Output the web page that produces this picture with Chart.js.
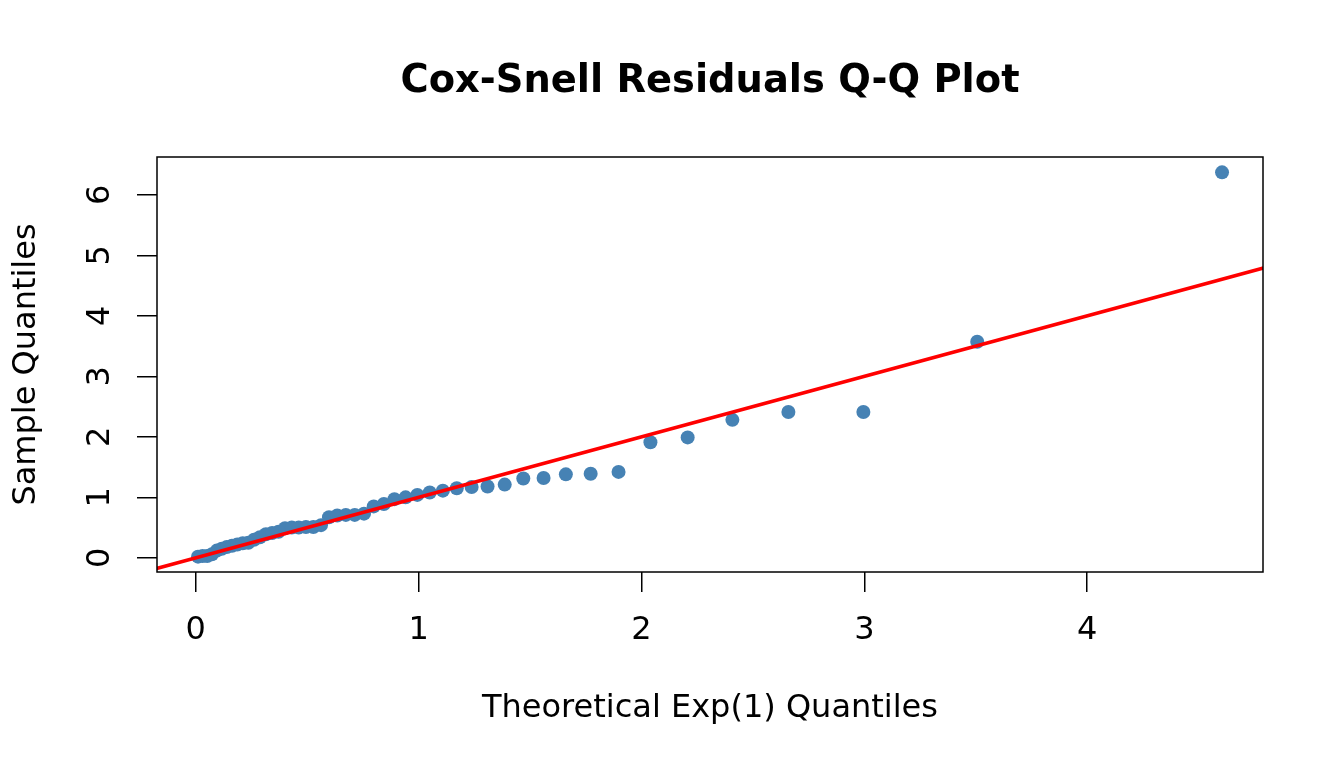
<!DOCTYPE html>
<html>
<head>
<meta charset="utf-8">
<script src="https://cdn.jsdelivr.net/npm/chart.js@4.4.0/dist/chart.umd.min.js"></script>
<style>
html, body { margin: 0; padding: 0; background: #ffffff; }
#wrap { width: 1344px; height: 768px; position: relative; }
</style>
</head>
<body>
<div id="wrap"><canvas id="c"></canvas></div>
<script>
const chartTitle = 'Cox-Snell Residuals Q-Q Plot';
const xAxisTitle = 'Theoretical Exp(1) Quantiles';
const yAxisTitle = 'Sample Quantiles';

const theoreticalQuantiles = [
  0.0101, 0.0305, 0.0513, 0.0726, 0.0943, 0.1165, 0.1393, 0.1625, 0.1863, 0.2107,
  0.2357, 0.2614, 0.2877, 0.3147, 0.3425, 0.3711, 0.4005, 0.4308, 0.4620, 0.4943,
  0.5276, 0.5621, 0.5978, 0.6349, 0.6733, 0.7133, 0.7550, 0.7985, 0.8440, 0.8916,
  0.9416, 0.9943, 1.0498, 1.1087, 1.1712, 1.2379, 1.3093, 1.3863, 1.4697, 1.5607,
  1.6607, 1.7720, 1.8971, 2.0402, 2.2073, 2.4079, 2.6593, 2.9957, 3.5066, 4.6052
];
const sampleQuantiles = [
  0.02, 0.03, 0.03, 0.06, 0.12, 0.15, 0.18, 0.20, 0.22, 0.24,
  0.25, 0.30, 0.34, 0.39, 0.41, 0.43, 0.49, 0.50, 0.50, 0.51,
  0.51, 0.54, 0.67, 0.70, 0.71, 0.71, 0.73, 0.85, 0.89, 0.97,
  1.00, 1.04, 1.08, 1.11, 1.15, 1.17, 1.18, 1.21, 1.31, 1.32,
  1.38, 1.39, 1.42, 1.91, 1.99, 2.28, 2.41, 2.41, 3.57, 6.37
];
const referenceLineX = [-1, 6];
const referenceLineY = [-1, 6];
const xTickValues = [0, 1, 2, 3, 4];
const yTickValues = [0, 1, 2, 3, 4, 5, 6];
const xLimits = [-0.174, 4.789];
const yLimits = [-0.234, 6.624];

const FONT = '"DejaVu Sans", "Liberation Sans", sans-serif';

const framePlugin = {
  id: 'framePlugin',
  afterDraw(chart) {
    const { ctx, chartArea: a } = chart;
    ctx.save();
    ctx.strokeStyle = '#000000';
    ctx.lineWidth = 1.5;
    ctx.strokeRect(a.left, a.top, a.right - a.left, a.bottom - a.top);
    ctx.fillStyle = '#000000';
    ctx.font = 'bold 38.4px ' + FONT;
    ctx.textAlign = 'center';
    ctx.textBaseline = 'alphabetic';
    ctx.fillText(chartTitle, (a.left + a.right) / 2, 91.7);
    ctx.restore();
  }
};

new Chart(document.getElementById('c'), {
  type: 'scatter',
  data: {
    datasets: [
      {
        type: 'line',
        label: 'y = x',
        data: referenceLineX.map((x, i) => ({ x: x, y: referenceLineY[i] })),
        borderColor: '#FF0000',
        backgroundColor: '#FF0000',
        borderWidth: 3.6,
        pointRadius: 0,
        fill: false,
        tension: 0,
        clip: 0
      },
      {
        type: 'scatter',
        label: 'Cox-Snell residuals',
        data: theoreticalQuantiles.map((x, i) => ({ x: x, y: sampleQuantiles[i] })),
        backgroundColor: '#4682B4',
        borderColor: '#4682B4',
        borderWidth: 0,
        pointRadius: 7,
        pointHoverRadius: 7,
        clip: false
      }
    ]
  },
  options: {
    responsive: true,
    maintainAspectRatio: false,
    animation: false,
    events: [],
    layout: { padding: { top: 157, right: 81, bottom: 0, left: 0 } },
    plugins: {
      legend: { display: false },
      tooltip: { enabled: false },
      title: { display: false }
    },
    scales: {
      x: {
        type: 'linear',
        position: 'bottom',
        min: xLimits[0],
        max: xLimits[1],
        afterBuildTicks: (s) => { s.ticks = xTickValues.map(v => ({ value: v })); },
        afterFit: (s) => { s.height = 196; },
        grid: { drawOnChartArea: false, drawTicks: true, tickLength: 20, color: '#000000', lineWidth: 1.5 },
        border: { display: false },
        ticks: {
          color: '#000000',
          font: { family: FONT, size: 32 },
          padding: 19.3,
          minRotation: 0,
          maxRotation: 0,
          autoSkip: false
        },
        title: {
          display: true,
          text: xAxisTitle,
          color: '#000000',
          font: { family: FONT, size: 32 },
          padding: { top: 0, bottom: 40.5 }
        }
      },
      y: {
        type: 'linear',
        position: 'left',
        min: yLimits[0],
        max: yLimits[1],
        afterBuildTicks: (s) => { s.ticks = yTickValues.map(v => ({ value: v })); },
        afterFit: (s) => { s.width = 157; },
        grid: { drawOnChartArea: false, drawTicks: true, tickLength: 20, color: '#000000', lineWidth: 1.5 },
        border: { display: false },
        ticks: {
          color: '#000000',
          font: { family: FONT, size: 32 },
          padding: 26,
          minRotation: 90,
          maxRotation: 90,
          crossAlign: 'center',
          autoSkip: false
        },
        title: {
          display: true,
          text: yAxisTitle,
          color: '#000000',
          font: { family: FONT, size: 32 },
          padding: { top: 7, bottom: 0 }
        }
      }
    }
  },
  plugins: [framePlugin]
});
</script>
</body>
</html>
